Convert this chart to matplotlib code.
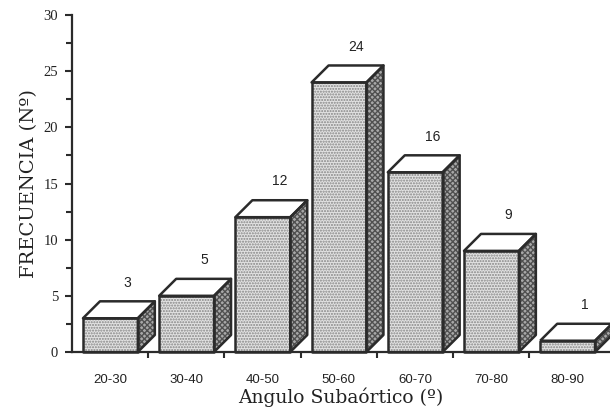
import matplotlib
matplotlib.use("Agg")
from matplotlib import pyplot as plt
from matplotlib.patches import Polygon

# Angulo subaórtico: frecuencia por intervalo
intervalos = ["20-30", "30-40", "40-50", "50-60", "60-70", "70-80", "80-90"]
frecuencia = [3, 5, 12, 24, 16, 9, 1]

EDGE = "#2b2b2b"
FRONT = "#e2e2e2"
SIDE = "#a8a8a8"
TOP = "#ffffff"

# 3D box geometry in data units
bar_w = 0.72
bar_off = -0.356
dx = 0.223
dy = 1.51


def draw_box(ax, x0, h):
    x1 = x0 + bar_w
    front = [(x0, 0), (x1, 0), (x1, h), (x0, h)]
    side = [(x1, 0), (x1 + dx, dy), (x1 + dx, h + dy), (x1, h)]
    top = [(x0, h), (x1, h), (x1 + dx, h + dy), (x0 + dx, h + dy)]
    faces = [(front, FRONT, "#858585", "......"),
             (side, SIDE, "#505050", "xxxxxx"),
             (top, TOP, None, None)]
    for pts, fc, hc, hatch in faces:
        if hatch:
            ax.add_patch(Polygon(pts, closed=True, facecolor=fc, edgecolor=hc,
                                 hatch=hatch, lw=0, clip_on=False, zorder=2))
        else:
            ax.add_patch(Polygon(pts, closed=True, facecolor=fc, lw=0,
                                 clip_on=False, zorder=2))
        ax.add_patch(Polygon(pts, closed=True, fill=False, edgecolor=EDGE,
                             lw=1.8, joinstyle="round", clip_on=False, zorder=3))


fig = plt.figure(figsize=(6.1, 4.18), dpi=100)
ax = fig.add_axes([72 / 610, 0.158, 1 - 72 / 610, 0.806])

for i, v in enumerate(frecuencia):
    draw_box(ax, i + bar_off, v)
    ax.text(i + 0.23, v + dy + 1.05, str(v), ha="center", va="bottom",
            family="Liberation Sans", fontsize=10, color="#222")

ax.set_xlim(-0.5, 6.56)
ax.set_ylim(0, 30)

ax.spines["top"].set_visible(False)
ax.spines["right"].set_visible(False)
for s in ("left", "bottom"):
    ax.spines[s].set_color(EDGE)
    ax.spines[s].set_linewidth(1.6)
ax.spines["bottom"].set_zorder(4)

ax.set_yticks(range(0, 31, 5))
ax.set_yticks([2.5 + 5 * k for k in range(6)], minor=True)
ax.tick_params(axis="y", which="major", direction="out", length=5, width=1.5,
               color=EDGE, labelsize=10.5, labelcolor="#222", pad=5)
ax.tick_params(axis="y", which="minor", direction="out", length=4, width=1.5,
               color=EDGE)
for lab in ax.get_yticklabels():
    lab.set_family("Liberation Serif")

ax.set_xticks(range(len(intervalos)))
ax.set_xticklabels(intervalos, family="Liberation Sans", fontsize=9.5,
                   color="#222")
ax.set_xticks([k + 0.5 for k in range(6)], minor=True)
ax.tick_params(axis="x", which="major", length=0, pad=16)
ax.tick_params(axis="x", which="minor", direction="out", length=4, width=1.5,
               color=EDGE)

ax.set_xlabel("Angulo Subaórtico (º)", family="DejaVu Serif", fontsize=13.5,
              color="#222", labelpad=1)
ax.set_ylabel("FRECUENCIA (Nº)", family="DejaVu Serif", fontsize=14,
              color="#222", labelpad=4)

fig.savefig("out.png", dpi=100)
